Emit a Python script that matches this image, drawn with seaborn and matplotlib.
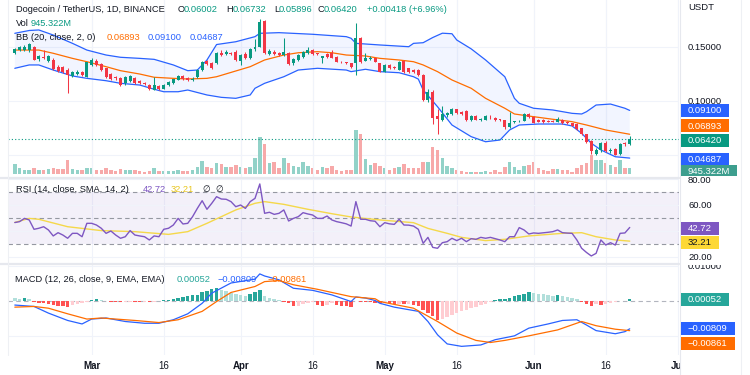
import numpy as np
import pandas as pd
import matplotlib
matplotlib.use("Agg")
import matplotlib.pyplot as plt
from matplotlib.patches import Rectangle
from matplotlib.lines import Line2D
from matplotlib.transforms import Bbox, TransformedBbox, blended_transform_factory
import seaborn as sns

sns.set_theme(style="white")
plt.rcParams["font.family"] = ["Liberation Sans", "DejaVu Sans"]

# ------------------------------------------------------------------ data
first_day = "2022-02-13"
opens = [0.1445, 0.1470, 0.1468, 0.1465, 0.1500, 0.1385, 0.1405, 0.1365, 0.1378, 0.1315,
         0.1310, 0.1285, 0.1232, 0.1250, 0.1262, 0.1222, 0.1335, 0.1372, 0.1337, 0.1300,
         0.1245, 0.1215, 0.1207, 0.1162, 0.1180, 0.1207, 0.1185, 0.1168, 0.1145, 0.1100,
         0.1132, 0.1112, 0.1145, 0.1165, 0.1192, 0.1229, 0.1210, 0.1192, 0.1217, 0.1284,
         0.1368, 0.1350, 0.1346, 0.1444, 0.1430, 0.1440, 0.1454, 0.1372, 0.1432, 0.1392,
         0.1476, 0.1500, 0.1741, 0.1432, 0.1452, 0.1445, 0.1423, 0.1444, 0.1346, 0.1377,
         0.1407, 0.1444, 0.1469, 0.1439, 0.1395, 0.1432, 0.1439, 0.1407, 0.1361, 0.1355,
         0.1346, 0.1346, 0.1578, 0.1370, 0.1385, 0.1395, 0.1346, 0.1269, 0.1331, 0.1315,
         0.1284, 0.1368, 0.1300, 0.1285, 0.1284, 0.1240, 0.1010, 0.1085, 0.0855, 0.0821,
         0.0868, 0.0877, 0.0919, 0.0894, 0.0904, 0.0817, 0.0858, 0.0825, 0.0825, 0.0850,
         0.0840, 0.0826, 0.0820, 0.0755, 0.0800, 0.0810, 0.0815, 0.0876, 0.0852, 0.0825,
         0.0820, 0.0815, 0.0815, 0.0805, 0.0820, 0.0805, 0.0790, 0.0784, 0.0744, 0.0691,
         0.0625, 0.0510, 0.0540, 0.0610, 0.0530, 0.0555, 0.0506, 0.0605, 0.06002]
highs = [0.1490, 0.1505, 0.1512, 0.1532, 0.1510, 0.1420, 0.1470, 0.1420, 0.1392, 0.1330,
         0.1325, 0.1300, 0.1275, 0.1285, 0.1275, 0.1362, 0.1392, 0.1385, 0.1345, 0.1305,
         0.1255, 0.1228, 0.1222, 0.1228, 0.1240, 0.1215, 0.1192, 0.1176, 0.1155, 0.1222,
         0.1142, 0.1158, 0.1180, 0.1205, 0.1238, 0.1236, 0.1218, 0.1215, 0.1290, 0.1372,
         0.1380, 0.1362, 0.1455, 0.1470, 0.1465, 0.1450, 0.1465, 0.1430, 0.1450, 0.1485,
         0.1568, 0.1752, 0.1750, 0.1475, 0.1465, 0.1455, 0.1578, 0.1450, 0.1392, 0.1430,
         0.1460, 0.1500, 0.1475, 0.1445, 0.1415, 0.1440, 0.1469, 0.1415, 0.1365, 0.1360,
         0.1350, 0.1717, 0.1590, 0.1444, 0.1410, 0.1400, 0.1352, 0.1340, 0.1340, 0.1320,
         0.1370, 0.1375, 0.1305, 0.1292, 0.1290, 0.1250, 0.1110, 0.1095, 0.0920, 0.0950,
         0.0900, 0.0930, 0.0925, 0.0905, 0.0910, 0.0865, 0.0870, 0.0840, 0.0865, 0.0870,
         0.0845, 0.0835, 0.0825, 0.0895, 0.0815, 0.0818, 0.0885, 0.0885, 0.0860, 0.0832,
         0.0828, 0.0822, 0.0822, 0.0845, 0.0826, 0.0810, 0.0795, 0.0790, 0.0750, 0.0695,
         0.0640, 0.0560, 0.0615, 0.0625, 0.0560, 0.0565, 0.0605, 0.0615, 0.06732]
lows = [0.1435, 0.1462, 0.1460, 0.1455, 0.1375, 0.1365, 0.1390, 0.1355, 0.1285, 0.1262,
        0.1258, 0.1070, 0.1220, 0.1240, 0.1228, 0.1215, 0.1322, 0.1325, 0.1275, 0.1210,
        0.1195, 0.1195, 0.1135, 0.1150, 0.1172, 0.1152, 0.1155, 0.1148, 0.1098, 0.1095,
        0.1100, 0.1105, 0.1140, 0.1155, 0.1188, 0.1190, 0.1185, 0.1185, 0.1210, 0.1278,
        0.1335, 0.1298, 0.1338, 0.1410, 0.1420, 0.1425, 0.1365, 0.1331, 0.1385, 0.1385,
        0.1460, 0.1495, 0.1430, 0.1420, 0.1420, 0.1415, 0.1415, 0.1330, 0.1335, 0.1370,
        0.1400, 0.1435, 0.1425, 0.1425, 0.1346, 0.1400, 0.1395, 0.1355, 0.1350, 0.1340,
        0.1305, 0.1238, 0.1350, 0.1365, 0.1375, 0.1355, 0.1262, 0.1262, 0.1290, 0.1295,
        0.1280, 0.1260, 0.1260, 0.1255, 0.1230, 0.0995, 0.0990, 0.0780, 0.0690, 0.0810,
        0.0850, 0.0870, 0.0880, 0.0865, 0.0815, 0.0810, 0.0820, 0.0815, 0.0820, 0.0835,
        0.0810, 0.0810, 0.0740, 0.0745, 0.0790, 0.0802, 0.0810, 0.0840, 0.0790, 0.0800,
        0.0795, 0.0800, 0.0800, 0.0800, 0.0785, 0.0785, 0.0765, 0.0730, 0.0685, 0.0610,
        0.0505, 0.0500, 0.0525, 0.0525, 0.0520, 0.0495, 0.0500, 0.0585, 0.05896]
closes = [0.1482, 0.1495, 0.1500, 0.1522, 0.1380, 0.1410, 0.1398, 0.1412, 0.1292, 0.1275,
          0.1265, 0.1240, 0.1268, 0.1265, 0.1240, 0.1355, 0.1377, 0.1335, 0.1285, 0.1218,
          0.1202, 0.1208, 0.1145, 0.1222, 0.1229, 0.1162, 0.1165, 0.1155, 0.1105, 0.1145,
          0.1108, 0.1150, 0.1176, 0.1198, 0.1229, 0.1198, 0.1192, 0.1205, 0.1284, 0.1361,
          0.1342, 0.1305, 0.1444, 0.1423, 0.1454, 0.1437, 0.1377, 0.1423, 0.1392, 0.1476,
          0.1494, 0.1732, 0.1439, 0.1462, 0.1432, 0.1423, 0.1454, 0.1340, 0.1383, 0.1423,
          0.1454, 0.1469, 0.1432, 0.1435, 0.1410, 0.1407, 0.1400, 0.1361, 0.1356, 0.1346,
          0.1315, 0.1578, 0.1361, 0.1400, 0.1400, 0.1361, 0.1269, 0.1331, 0.1300, 0.1300,
          0.1361, 0.1269, 0.1269, 0.1262, 0.1238, 0.1010, 0.1085, 0.0837, 0.0828, 0.0876,
          0.0889, 0.0923, 0.0885, 0.0875, 0.0821, 0.0858, 0.0825, 0.0830, 0.0858, 0.0848,
          0.0820, 0.0820, 0.0755, 0.0795, 0.0810, 0.0815, 0.0876, 0.0850, 0.0796, 0.0805,
          0.0800, 0.0805, 0.0805, 0.0830, 0.0790, 0.0790, 0.0770, 0.0735, 0.0690, 0.0620,
          0.0530, 0.0545, 0.0605, 0.0530, 0.0545, 0.0500, 0.0599, 0.0600, 0.06420]
volume_m = [1600, 1000, 700, 700, 1000, 700, 700, 750, 1000, 800,
            800, 2200, 800, 650, 700, 900, 900, 700, 700, 900,
            700, 500, 750, 700, 650, 650, 500, 350, 450, 1000,
            550, 500, 550, 550, 650, 550, 500, 650, 1170, 2080,
            1170, 910, 1670, 1570, 1170, 1170, 1420, 1060, 910, 1060,
            2430, 5730, 4610, 1670, 1930, 910, 2430, 1670, 1270, 1170,
            1930, 1270, 910, 660, 1170, 910, 1270, 660, 510, 660,
            660, 6740, 6130, 2280, 1420, 1770, 1270, 910, 660, 910,
            1060, 1570, 910, 1010, 910, 1930, 1930, 4210, 3700, 2430,
            1270, 910, 660, 510, 410, 410, 300, 410, 510, 410,
            660, 410, 1170, 1930, 1170, 660, 1270, 1420, 1930, 910,
            660, 560, 760, 810, 660, 660, 410, 910, 1420, 1700,
            2940, 2200, 2200, 1650, 1400, 1150, 2100, 900, 945.322]

# Bollinger Bands (20, 2): (day offset, value)
bb_upper_day = [0, 3, 5, 8, 12, 15, 19, 22, 26, 29, 33, 36, 38, 40, 42, 46, 50, 51, 55, 62,
                69, 70, 71, 76, 82, 83, 85, 87, 89, 91, 92, 95, 98, 102, 104, 105, 108, 112,
                116, 118, 119, 121, 124, 127, 128]
bb_upper = [0.1624, 0.1650, 0.1655, 0.1608, 0.1531, 0.1469, 0.1423, 0.1402, 0.1392, 0.1383,
            0.1331, 0.1278, 0.1284, 0.1377, 0.1520, 0.1546, 0.1593, 0.1624, 0.1630, 0.1615,
            0.1593, 0.1578, 0.1531, 0.1516, 0.1500, 0.1531, 0.1537, 0.1585, 0.1625, 0.1620,
            0.1562, 0.1480, 0.1377, 0.1222, 0.1022, 0.0976, 0.0930, 0.0914, 0.0883, 0.0877,
            0.0898, 0.0960, 0.0969, 0.0930, 0.0910]
bb_basis_day = [0, 5, 8, 12, 15, 19, 22, 26, 29, 33, 36, 40, 42, 49, 52, 56, 59, 63, 66, 69,
                73, 76, 80, 83, 85, 88, 91, 95, 98, 102, 104, 107, 112, 116, 119, 123, 128]
bb_basis = [0.1469, 0.1469, 0.1439, 0.1392, 0.1361, 0.1315, 0.1278, 0.1247, 0.1217, 0.1207,
            0.1201, 0.1207, 0.1222, 0.1315, 0.1377, 0.1423, 0.1444, 0.1454, 0.1444, 0.1423,
            0.1414, 0.1392, 0.1377, 0.1361, 0.1331, 0.1269, 0.1192, 0.1115, 0.1022, 0.0930,
            0.0877, 0.0858, 0.0828, 0.0806, 0.0775, 0.0729, 0.06893]
bb_lower_day = [0, 3, 5, 8, 12, 15, 19, 22, 26, 29, 31, 34, 36, 40, 43, 46, 49, 50, 52, 56,
                59, 63, 69, 70, 73, 76, 80, 83, 84, 85, 88, 91, 95, 98, 101, 103, 105, 109,
                114, 116, 118, 120, 122, 125, 128]
bb_lower = [0.1300, 0.1331, 0.1331, 0.1284, 0.1229, 0.1207, 0.1185, 0.1161, 0.1145, 0.1106,
            0.1083, 0.1083, 0.1099, 0.1053, 0.1031, 0.1022, 0.1053, 0.1115, 0.1161, 0.1222,
            0.1284, 0.1300, 0.1284, 0.1269, 0.1291, 0.1269, 0.1259, 0.1222, 0.1200, 0.1099,
            0.0944, 0.0775, 0.0667, 0.0620, 0.0636, 0.0729, 0.0775, 0.0784, 0.0784, 0.0766,
            0.0698, 0.0606, 0.0544, 0.0481, 0.04687]

# RSI (14) and its SMA (14)
rsi_day = list(range(0, 129))
rsi = [46.5, 47.2, 49.7, 48.5, 41.3, 42.1, 43.3, 40.8, 36.2, 38.7,
       36.9, 34.4, 38.2, 38.2, 35.6, 45.9, 45.9, 44.6, 42.1, 38.2,
       40.0, 36.9, 34.4, 35.6, 40.3, 36.9, 36.2, 35.6, 33.1, 36.2,
       35.6, 41.3, 42.1, 44.6, 49.7, 45.4, 45.9, 51.0, 57.4, 63.3,
       56.7, 61.3, 66.4, 64.6, 64.4, 62.6, 58.7, 60.0, 57.4, 62.6,
       65.1, 76.2, 53.6, 54.4, 52.8, 53.6, 56.2, 47.7, 49.7, 51.0,
       54.1, 53.1, 52.3, 49.7, 49.7, 51.5, 48.5, 47.2, 46.4, 45.5,
       43.8, 62.6, 49.0, 49.0, 47.9, 47.5, 43.3, 46.4, 45.5, 45.1,
       49.0, 44.6, 44.5, 43.8, 41.3, 30.5, 35.1, 27.4, 26.7, 31.0,
       31.8, 34.4, 32.6, 34.4, 31.8, 34.1, 33.6, 35.1, 34.4, 35.1,
       34.1, 33.1, 31.8, 35.6, 35.6, 42.6, 40.8, 37.7, 38.5, 38.2,
       38.6, 39.0, 39.5, 40.8, 38.7, 38.4, 38.2, 33.1, 26.7, 23.5,
       20.8, 22.8, 33.1, 29.2, 31.0, 29.2, 38.2, 38.5, 42.72]
rsi_ma_day = [0, 3, 5, 11, 18, 25, 32, 36, 40, 46, 50, 52, 56, 61, 66, 70, 76, 83, 86, 90,
              93, 98, 102, 107, 114, 118, 121, 125, 128]
rsi_ma = [46.6, 49.7, 49.0, 43.3, 40.3, 39.5, 37.4, 39.5, 45.9, 56.2, 61.3, 62.6, 60.5, 56.7,
          53.3, 50.8, 48.5, 46.4, 42.0, 38.2, 35.1, 32.6, 33.6, 36.2, 38.2, 38.7, 35.6, 33.1,
          32.21]

# MACD (12, 26, 9), values in thousandths
macd_day = [0, 4, 7, 11, 14, 16, 19, 23, 27, 30, 33, 36, 39, 41, 45, 50, 51, 52, 55, 58,
            62, 66, 70, 71, 73, 75, 76, 79, 84, 86, 88, 90, 93, 97, 100, 104, 107, 111, 114,
            117, 119, 121, 125, 127, 128]
macd_line = [-1.3, -1.7, -3.6, -5.7, -6.7, -5.3, -5.0, -6.0, -6.5, -6.5, -5.5, -3.8, -0.8,
             2.1, 5.0, 6.1, 7.6, 7.0, 5.9, 3.5, 2.9, 1.6, -0.3, 1.0, 0.7, 0.0, -0.8, -1.9,
             -3.1, -6.0, -9.8, -12.4, -13.1, -12.7, -11.2, -10.1, -7.9, -6.7, -5.7, -5.5,
             -7.0, -8.6, -9.5, -8.9, -8.09]
signal_day = [0, 4, 7, 11, 15, 18, 25, 30, 34, 39, 42, 45, 50, 52, 55, 58, 63, 66, 70, 75,
              76, 83, 88, 92, 96, 99, 102, 107, 113, 118, 121, 125, 128]
signal_line = [-1.9, -1.7, -2.2, -3.8, -5.3, -5.0, -5.7, -6.3, -5.5, -3.1, -0.3, 2.3, 4.0,
               5.4, 5.7, 4.5, 3.2, 2.3, 1.1, 0.5, -0.3, -2.2, -6.0, -9.3, -11.4, -12.0,
               -11.4, -10.1, -8.4, -6.0, -7.2, -8.2, -8.61]
macd_hist = [0.6, 0.5, 0.7, 0.3, -0.3, -0.6, -0.8, -1.0, -1.2, -1.5,
             -1.7, -1.9, -1.2, -0.9, -0.6, -0.3, 0.1, 0.3, 0.2, -0.2,
             -0.3, -0.4, -0.5, -0.4, -0.3, -0.4, -0.5, -0.4, -0.5, -0.3,
             -0.2, 0.1, 0.2, 0.4, 0.8, 1.0, 1.3, 1.5, 1.7, 2.3,
             2.8, 3.2, 3.5, 3.0, 2.6, 2.2, 2.0, 1.6, 1.2, 2.0,
             2.3, 3.0, 1.2, 0.7, 0.3, 0.1, -0.3, -0.8, -1.5, -1.5,
             -1.0, -0.6, -0.3, -1.2, -1.5, -1.2, -0.8, -1.2, -1.5, -1.7,
             -1.9, -0.2, -0.3, -0.4, -0.5, -0.6, -0.8, -0.7, -0.8, -1.0,
             -0.9, -1.1, -1.0, -1.2, -1.6, -2.8, -3.5, -4.5, -5.5, -5.2,
             -4.6, -4.0, -3.5, -3.0, -2.6, -2.2, -1.8, -1.4, -1.0, -0.5,
             0.2, 0.3, 0.5, 0.8, 1.2, 1.6, 2.0, 2.3, 2.2, 2.0,
             1.8, 1.6, 1.4, 1.6, 1.3, 1.0, 0.7, 0.3, -0.3, -0.9,
             -1.5, -1.0, -1.4, -1.0, -0.6, -0.5, -0.2, -0.1, 0.52]

tick_dates = ["2022-03-01", "2022-03-16", "2022-04-01", "2022-04-16", "2022-05-01",
              "2022-05-16", "2022-06-01", "2022-06-16", "2022-07-01"]
tick_labels = ["Mar", "16", "Apr", "16", "May", "16", "Jun", "16", "Jul"]

# ------------------------------------------------------------------ derived
start = pd.Timestamp(first_day)
o, h, l, c = map(np.asarray, (opens, highs, lows, closes))
day = np.arange(len(c))
up = c >= o
tick_day = [(pd.Timestamp(d) - start).days for d in tick_dates]
scale = 1e-3
hist = np.asarray(macd_hist) * scale

# ------------------------------------------------------------------ layout
W, H = 750, 375
fig = plt.figure(figsize=(7.5, 3.75), dpi=100)
fig.patch.set_facecolor("white")


def box(x0, y0, x1, y1):
    return [x0 / W, 1 - y1 / H, (x1 - x0) / W, (y1 - y0) / H]


L, R = 8, 679
XL = (L - 14.8) / 4.804
XR = (R - 14.8) / 4.804
TXT = "#131722"
GRID = "#f0f3fa"
FS = 6.8

ax_vol = fig.add_axes(box(L, 0, R, 177))
ax = fig.add_axes(box(L, 0, R, 177))
ax_rsi = fig.add_axes(box(L, 178, R, 263))
ax_m = fig.add_axes(box(L, 264, R, 355))
ax.patch.set_alpha(0)

for a in (ax_vol, ax, ax_rsi, ax_m):
    a.set_xlim(XL, XR)
    for s in a.spines.values():
        s.set_visible(False)
    a.tick_params(axis="x", bottom=False, labelbottom=False)
    for td in tick_day:
        a.axvline(td, color=GRID, lw=0.8, zorder=0)

# ---- volume
vol_cols = np.where(up, "#92d2c8", "#f7a9a9")
ax_vol.bar(day, volume_m, width=0.72, color=vol_cols, linewidth=0)
ax_vol.set_ylim(-410, 26494)
ax_vol.set_yticks([])

# ---- price panel
ax.set_ylim(0.029352, 0.193241)
for lv in (0.05, 0.10, 0.15):
    ax_vol.axhline((174.3 - (100.7 + (0.10 - lv) * 1080)) * 152, color=GRID, lw=0.8, zorder=0)
ax.fill(np.r_[bb_upper_day, bb_lower_day[::-1]], np.r_[bb_upper, bb_lower[::-1]],
        color="#2962ff", alpha=0.06, lw=0, zorder=1)
sns.lineplot(x=bb_upper_day, y=bb_upper, ax=ax, color="#2962ff", lw=0.9, estimator=None, zorder=2)
sns.lineplot(x=bb_lower_day, y=bb_lower, ax=ax, color="#2962ff", lw=0.9, estimator=None, zorder=2)
sns.lineplot(x=bb_basis_day, y=bb_basis, ax=ax, color="#ff6d00", lw=0.9, estimator=None, zorder=2)
cand_cols = np.where(up, "#089981", "#f23645")
ax.vlines(day, l, h, colors=cand_cols, lw=0.75, zorder=3)
body = np.maximum(np.abs(c - o), 0.00035)
ax.bar(day, body, bottom=np.minimum(o, c), width=0.62, color=cand_cols, linewidth=0, zorder=4)
ax.axhline(c[-1], color="#089981", lw=0.8, ls=(0, (1, 2)), zorder=2)
ax.yaxis.tick_right()
ax.set_yticks([0.10, 0.15])
ax.set_yticklabels(["0.10000", "0.15000"])
ax.tick_params(axis="y", length=0, pad=6.5, labelsize=FS, labelcolor=TXT)
ax.set_xlabel("")
ax.set_ylabel("")

# ---- RSI panel
ax_rsi.set_ylim(15.38, 80.77)
ax_rsi.axhspan(30, 70, color="#7e57c2", alpha=0.085, lw=0, zorder=0)
for lv in (20, 40, 60, 80):
    ax_rsi.axhline(lv, color=GRID, lw=0.8, zorder=0)
for lv in (70, 50, 30):
    ax_rsi.axhline(lv, color="#9598a1", lw=0.8, ls=(0, (4, 3)), zorder=1)
sns.lineplot(x=rsi_ma_day, y=rsi_ma, ax=ax_rsi, color="#f5d84a", lw=1.0, estimator=None, zorder=2)
sns.lineplot(x=rsi_day, y=rsi, ax=ax_rsi, color="#7e57c2", lw=1.0, estimator=None, zorder=3)
ax_rsi.yaxis.tick_right()
ax_rsi.set_yticks([20, 60, 80])
ax_rsi.set_yticklabels(["20.00", "60.00", "80.00"])
ax_rsi.tick_params(axis="y", length=0, pad=6.5, labelsize=FS, labelcolor=TXT)
ax_rsi.set_xlabel("")
ax_rsi.set_ylabel("")

# ---- MACD panel
ax_m.set_ylim(-0.015571, 0.010429)
for lv in (0.01, -0.01):
    ax_m.axhline(lv, color=GRID, lw=0.8, zorder=0)
ax_m.axhline(0, color="#b2b5be", lw=0.8, ls=(0, (4, 3)), zorder=1)
prev = np.r_[hist[0], hist[:-1]]
hcols = np.where(hist >= 0, np.where(hist > prev, "#26a69a", "#b2dfdb"),
                 np.where(hist < prev, "#ff5252", "#ffcdd2"))
ax_m.bar(day, hist, width=0.72, color=hcols, linewidth=0, zorder=2)
sns.lineplot(x=macd_day, y=np.asarray(macd_line) * scale, ax=ax_m, color="#2962ff", lw=0.9,
             estimator=None, zorder=3)
sns.lineplot(x=signal_day, y=np.asarray(signal_line) * scale, ax=ax_m, color="#ff6d00", lw=0.9,
             estimator=None, zorder=3)
ax_m.yaxis.tick_right()
ax_m.set_yticks([0.01])
ax_m.set_yticklabels(["0.01000"])
ax_m.tick_params(axis="y", length=0, pad=6.5, labelsize=FS, labelcolor=TXT)
ax_m.set_xlabel("")
ax_m.set_ylabel("")
clip_top = TransformedBbox(Bbox.from_extents(0, 0, 1, 1 - 264.5 / H), fig.transFigure)
for lbl in ax_m.get_yticklabels():
    lbl.set_clip_box(clip_top)
    lbl.set_clip_on(True)

# date labels
trans = blended_transform_factory(ax_m.transData, ax_m.transAxes)
clip_right = TransformedBbox(Bbox.from_extents(0, 0, 681 / W, 1), fig.transFigure)
for td, lab in zip(tick_day, tick_labels):
    t = ax_m.text(td, -11 / 91, lab, transform=trans, ha="center", va="center",
                  fontsize=7, color=TXT, fontweight="bold" if lab.isalpha() else "normal")
    t.set_clip_box(clip_right)
    t.set_clip_on(True)

# ---- separators
for yy in (177.5, 263.5):
    fig.add_artist(Line2D([0, R / W], [1 - yy / H] * 2, color="#e6e8ee", lw=1.6,
                          transform=fig.transFigure))
fig.add_artist(Line2D([L / W] * 2, [1 - 355 / H, 1], color="#eef0f4", lw=0.8,
                      transform=fig.transFigure))
fig.add_artist(Line2D([(R + 0.5) / W] * 2, [0, 1], color="#e6e8ee", lw=0.8,
                      transform=fig.transFigure))
fig.add_artist(Line2D([741 / W] * 2, [0, 1], color="#eef0f4", lw=0.8,
                      transform=fig.transFigure))


# ---- header texts
def ftext(x, y, s, color=TXT, size=6.7, **kw):
    return fig.text(x / W, 1 - y / H, s, color=color, fontsize=size, ha="left", va="center", **kw)


TEAL = "#089981"
ftext(16, 9, "Dogecoin / TetherUS, 1D, BINANCE")
for lab, val, xl, xv in (("O", "0.06002", 178, 184), ("H", "0.06732", 226, 232.5),
                         ("L", "0.05896", 274, 279), ("C", "0.06420", 318, 324)):
    ftext(xl, 9, lab)
    ftext(xv, 9, val, TEAL)
ftext(367, 9, "+0.00418 (+6.96%)", TEAL)
ftext(16, 23, "Vol")
ftext(31, 23, "945.322M", TEAL)
ftext(16, 37, "BB (20, close, 2, 0)")
ftext(107, 37, "0.06893", "#ff6d00")
ftext(148, 37, "0.09100", "#2962ff")
ftext(190, 37, "0.04687", "#2962ff")
ftext(16, 189, "RSI (14, close, SMA, 14, 2)")
ftext(143, 189, "42.72", "#7e57c2")
ftext(171, 189, "32.21", "#e8c61e")
ftext(202, 189, "\u2205", size=6.3)
ftext(215, 189, "\u2205", size=6.3)
ftext(15, 279, "MACD (12, 26, close, 9, EMA, EMA)")
ftext(177, 279, "0.00052", "#26a69a")
ftext(218, 279, "\u22120.00809", "#2962ff")
ftext(267, 279, "\u22120.00861", "#ff6d00")
ftext(688, 7, "USDT", size=FS)

# ---- right-hand value tags
renderer = fig.canvas.get_renderer()


def tag(yc, s, fc, tc="white", clip=None):
    t = ftext(688, yc, s, tc, size=FS, zorder=11)
    bb = t.get_window_extent(renderer)
    rect = Rectangle((681 / W, 1 - (yc + 6.5) / H), (bb.width + 14) / W, 13 / H,
                     transform=fig.transFigure, color=fc, lw=0, zorder=10)
    fig.add_artist(rect)
    if clip is not None:
        cb = TransformedBbox(Bbox.from_extents(0, 1 - clip / H, 1, 1), fig.transFigure)
        for a in (t, rect):
            a.set_clip_box(cb)
            a.set_clip_on(True)


tag(110.7, "0.09100", "#2962ff")
tag(126, "0.06893", "#ff6d00")
tag(140.7, "0.06420", "#089981")
tag(159.3, "0.04687", "#2962ff")
tag(171.5, "945.322M", "#3d9e8e", clip=175.5)
tag(228.3, "42.72", "#7e57c2")
tag(242.3, "32.21", "#fdd835", tc=TXT)
tag(299.3, "0.00052", "#26a69a")
tag(328.7, "\u22120.00809", "#2962ff")
tag(343.7, "\u22120.00861", "#ff6d00")

fig.savefig("out.png", dpi=100, facecolor="white")
